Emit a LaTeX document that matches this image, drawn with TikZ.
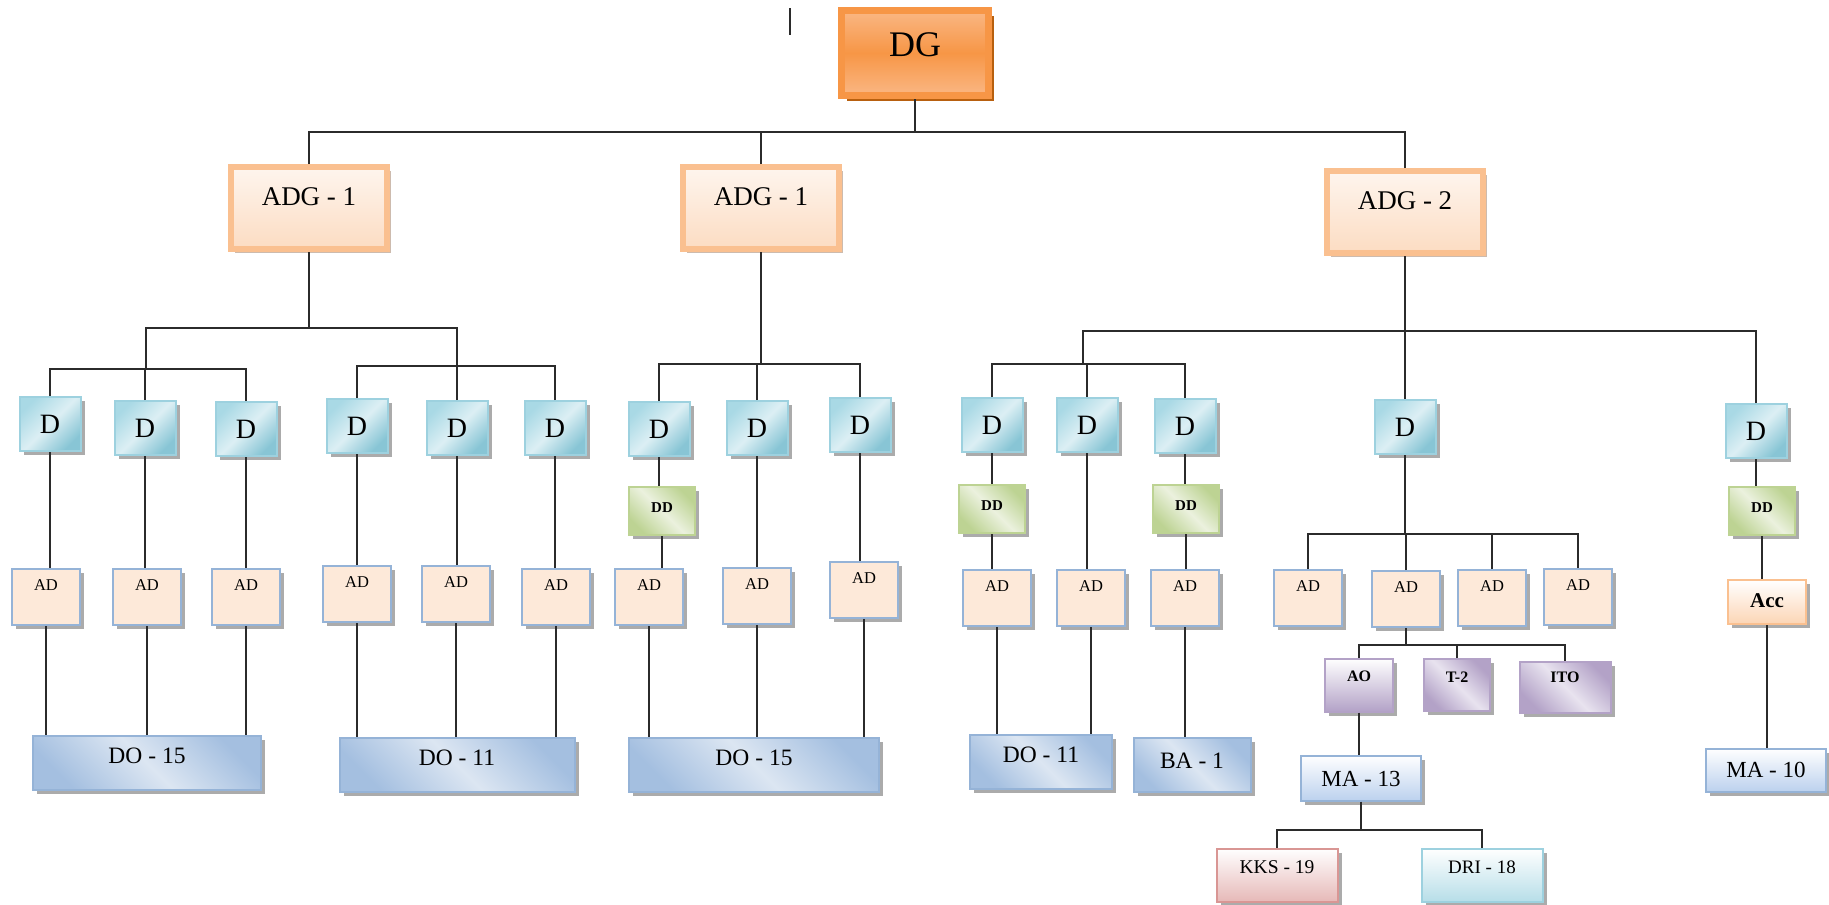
\documentclass[tikz,border=0pt]{standalone}
\usepackage{fontspec}
\setmainfont{Liberation Serif}
\usepackage{tikz}
\usetikzlibrary{shadows}
\definecolor{lineink}{HTML}{2B2B2B}
\definecolor{dgorange}{HTML}{F79646}
\definecolor{dglight}{HTML}{FAB784}
\definecolor{dgshadow}{HTML}{B8600F}
\definecolor{adgedge}{HTML}{FAC090}
\definecolor{adgfill}{HTML}{FCDCC2}
\definecolor{adgtop}{HTML}{FEF5EE}
\definecolor{adgshadow}{HTML}{CDBBAE}
\definecolor{dcorner}{HTML}{A9D9E5}
\definecolor{ddark}{HTML}{88C5D5}
\definecolor{dlight}{HTML}{DCEFF4}
\definecolor{dedge}{HTML}{9DD1DF}
\definecolor{adfill}{HTML}{FDE9D9}
\definecolor{adedge}{HTML}{95B3D7}
\definecolor{ddgreen}{HTML}{BDD393}
\definecolor{ddlight}{HTML}{EBF1DE}
\definecolor{doblue}{HTML}{A4BFE0}
\definecolor{dolight}{HTML}{DCE6F2}
\definecolor{mablue}{HTML}{BCD1EE}
\definecolor{purp}{HTML}{B3A2C7}
\definecolor{purplight}{HTML}{E8E3EF}
\definecolor{kkspink}{HTML}{E6B9B8}
\definecolor{kksedge}{HTML}{D99694}
\definecolor{drilight}{HTML}{B7DEE8}
\definecolor{accfill}{HTML}{FCD5B5}
\definecolor{shadowgray}{HTML}{ABABAB}
\newcommand{\fsz}[1]{\fontsize{#1}{#1}\selectfont}
\tikzset{link/.style={draw=lineink,line width=1.6pt},
  plainbox/.style={draw,line width=2pt,inner xsep=0pt,inner ysep=0pt},
  grayshadow/.style={drop shadow={shadow xshift=4pt,shadow yshift=-4pt,
    fill=shadowgray,opacity=1}},
  dgbox/.style={plainbox,draw=dgorange,line width=7pt,top color=dglight,
    bottom color=dglight,middle color=dgorange,minimum width=147pt,
    text height=46pt,text depth=39pt,font=\fsz{36},
    drop shadow={shadow xshift=5pt,shadow yshift=-5pt,fill=dgshadow,opacity=1}},
  adgbox/.style={plainbox,draw=adgedge,line width=6pt,top color=adgtop,
    bottom color=adgfill,minimum width=156pt,text height=38pt,text depth=44pt,
    font=\fsz{27},drop shadow={shadow xshift=4pt,shadow yshift=-4pt,
    fill=adgshadow,opacity=1}},
  dbox/.style={plainbox,grayshadow,draw=dedge,top color=dcorner,bottom color=ddark,
    middle color=dlight,shading angle=45,minimum width=61pt,text height=36pt,
    text depth=18pt,font=\fsz{28}},
  adbox/.style={plainbox,grayshadow,fill=adfill,draw=adedge,minimum width=68pt,
    text height=21pt,text depth=35pt,font=\fsz{16.5}},
  ddbox/.style={plainbox,grayshadow,draw=ddgreen,top color=ddgreen,
    bottom color=ddgreen,middle color=ddlight,shading angle=-45,
    minimum width=66pt,text height=25pt,text depth=23pt,font=\fsz{15}\bfseries},
  dobox/.style={plainbox,grayshadow,draw=adedge,top color=doblue,
    bottom color=doblue,middle color=dolight,shading angle=-45,
    text height=27pt,text depth=27pt,font=\fsz{23.5}},
  mabox/.style={plainbox,grayshadow,draw=adedge,top color=white,
    bottom color=mablue,minimum width=120pt,text height=31pt,text depth=14pt,
    font=\fsz{23}},
  aobox/.style={plainbox,grayshadow,draw=purp,top color=white,bottom color=purp,
    minimum width=68pt,text height=23pt,text depth=30pt,font=\fsz{16}\bfseries},
  tbox/.style={plainbox,grayshadow,draw=purp,top color=purp,bottom color=purp,
    middle color=purplight,shading angle=-45,text height=23pt,text depth=29pt,
    font=\fsz{16}\bfseries},
  kksbox/.style={plainbox,grayshadow,draw=kksedge,top color=white,
    bottom color=kkspink,minimum width=121pt,text height=25pt,text depth=28pt,
    font=\fsz{19.5}},
  dribox/.style={plainbox,grayshadow,draw=dedge,top color=white,
    bottom color=drilight,minimum width=121pt,text height=25pt,text depth=28pt,
    font=\fsz{19}},
  accbox/.style={plainbox,grayshadow,draw=adgedge,top color=white,
    bottom color=accfill,minimum width=78pt,text height=27pt,text depth=17pt,
    font=\fsz{21}\bfseries}}

\begin{document}
\begin{tikzpicture}[x=1pt,y=-1pt]
 \useasboundingbox (0,0) rectangle (1829,905);
 \node[dgbox] (dg) at (915,53) {DG};
 \node[adgbox] (adga) at (309,208) {ADG - 1};
 \node[adgbox] (adgb) at (761,208) {ADG - 1};
 \node[adgbox] (adgc) at (1405,212) {ADG - 2};

 \node[dbox] (d1) at (50,424) {D};
 \node[dbox] (d2) at (145,428) {D};
 \node[dbox] (d3) at (246,429) {D};
 \node[dbox] (d4) at (357,426) {D};
 \node[dbox] (d5) at (457,428) {D};
 \node[dbox] (d6) at (555,428) {D};
 \node[dbox] (d7) at (659,429) {D};
 \node[dbox] (d8) at (757,428) {D};
 \node[dbox] (d9) at (860,425) {D};
 \node[dbox] (d10) at (992,425) {D};
 \node[dbox] (d11) at (1087,425) {D};
 \node[dbox] (d12) at (1185,426) {D};
 \node[dbox] (d13) at (1405,427) {D};
 \node[dbox] (d14) at (1756,431) {D};

 \node[ddbox] (dd7) at (662,511) {DD};
 \node[ddbox] (dd10) at (992,509) {DD};
 \node[ddbox] (dd12) at (1186,509) {DD};
 \node[ddbox] (dd14) at (1762,511) {DD};

 \node[adbox] (ad1) at (46,597) {AD};
 \node[adbox] (ad2) at (147,597) {AD};
 \node[adbox] (ad3) at (246,597) {AD};
 \node[adbox] (ad4) at (357,594) {AD};
 \node[adbox] (ad5) at (456,594) {AD};
 \node[adbox] (ad6) at (556,597) {AD};
 \node[adbox] (ad7) at (649,597) {AD};
 \node[adbox] (ad8) at (757,596) {AD};
 \node[adbox] (ad9) at (864,590) {AD};
 \node[adbox] (ad10) at (997,598) {AD};
 \node[adbox] (ad11) at (1091,598) {AD};
 \node[adbox] (ad12) at (1185,598) {AD};
 \node[adbox] (ad13) at (1308,598) {AD};
 \node[adbox] (ad14) at (1406,599) {AD};
 \node[adbox] (ad15) at (1492,598) {AD};
 \node[adbox] (ad16) at (1578,597) {AD};

 \node[dobox,minimum width=228pt] (doa) at (147,763) {DO - 15};
 \node[dobox,minimum width=235pt] (dob) at (457,765) {DO - 11};
 \node[dobox,minimum width=250pt] (doc) at (754,765) {DO - 15};
 \node[dobox,minimum width=142pt] (dod) at (1041,762) {DO - 11};
 \node[dobox,minimum width=117pt,text height=30pt,text depth=24pt] (ba)
  at (1192,765) {BA - 1};

 \node[aobox] (ao) at (1359,685) {AO};
 \node[tbox,minimum width=66pt] (ttwo) at (1457,685) {T-2};
 \node[tbox,minimum width=91pt,text height=21pt,text depth=30pt] (ito)
  at (1565,687) {ITO};
 \node[mabox] (maa) at (1361,778) {MA - 13};
 \node[kksbox] (kks) at (1277,875) {KKS - 19};
 \node[dribox] (dri) at (1482,875) {DRI - 18};
 \node[accbox] (acc) at (1767,602) {Acc};
 \node[mabox,text height=29pt] (mab) at (1766,770) {MA - 10};

 \draw[link] (790,8) -- (790,35);
 \coordinate (topbus) at (917,132);
 \draw[link] (dg.south) -- (dg.south |- topbus);
 \draw[link] (adga.north) |- (topbus);
 \draw[link] (adgb.north) |- (topbus);
 \draw[link] (adgc.north) |- (topbus);

 \coordinate (busa) at (309,328);
 \coordinate (busal) at (146,369);
 \coordinate (busar) at (457,366);
 \draw[link] (adga.south) -- (busa);
 \draw[link] (busal) |- (busa);
 \draw[link] (busar) |- (busa);
 \draw[link] (d1.north) |- (busal);
 \draw[link] (d2.north) |- (busal);
 \draw[link] (d3.north) |- (busal);
 \draw[link] (d4.north) |- (busar);
 \draw[link] (d5.north) |- (busar);
 \draw[link] (d6.north) |- (busar);

 \coordinate (busb) at (761,364);
 \draw[link] (adgb.south) -- (busb);
 \draw[link] (d7.north) |- (busb);
 \draw[link] (d8.north) |- (busb);
 \draw[link] (d9.north) |- (busb);

 \coordinate (busc) at (1405,331);
 \coordinate (buscl) at (1083,364);
 \draw[link] (adgc.south) -- (busc);
 \draw[link] (buscl) |- (busc);
 \draw[link] (d13.north) |- (busc);
 \draw[link] (d14.north) |- (busc);
 \draw[link] (d10.north) |- (buscl);
 \draw[link] (d11.north) |- (buscl);
 \draw[link] (d12.north) |- (buscl);

 \draw[link] (d1.south) -- (d1.south |- ad1.north);
 \draw[link] (d2.south) -- (d2.south |- ad2.north);
 \draw[link] (d3.south) -- (d3.south |- ad3.north);
 \draw[link] (d4.south) -- (d4.south |- ad4.north);
 \draw[link] (d5.south) -- (d5.south |- ad5.north);
 \draw[link] (d6.south) -- (d6.south |- ad6.north);
 \draw[link] (d7.south) -- (d7.south |- dd7.north);
 \draw[link] (dd7.south) -- (dd7.south |- ad7.north);
 \draw[link] (d8.south) -- (d8.south |- ad8.north);
 \draw[link] (d9.south) -- (d9.south |- ad9.north);
 \draw[link] (d10.south) -- (d10.south |- dd10.north);
 \draw[link] (dd10.south) -- (dd10.south |- ad10.north);
 \draw[link] (d11.south) -- (d11.south |- ad11.north);
 \draw[link] (d12.south) -- (d12.south |- dd12.north);
 \draw[link] (dd12.south) -- (dd12.south |- ad12.north);

 \draw[link] (ad1.south) -- (ad1.south |- doa.north);
 \draw[link] (ad2.south) -- (ad2.south |- doa.north);
 \draw[link] (ad3.south) -- (ad3.south |- doa.north);
 \draw[link] (ad4.south) -- (ad4.south |- dob.north);
 \draw[link] (ad5.south) -- (ad5.south |- dob.north);
 \draw[link] (ad6.south) -- (ad6.south |- dob.north);
 \draw[link] (ad7.south) -- (ad7.south |- doc.north);
 \draw[link] (ad8.south) -- (ad8.south |- doc.north);
 \draw[link] (ad9.south) -- (ad9.south |- doc.north);
 \draw[link] (ad10.south) -- (ad10.south |- dod.north);
 \draw[link] (ad11.south) -- (ad11.south |- dod.north);
 \draw[link] (ad12.south) -- (ad12.south |- ba.north);

 \coordinate (busd) at (1405,534);
 \draw[link] (d13.south) -- (busd);
 \draw[link] (ad13.north) |- (busd);
 \draw[link] (ad14.north) |- (busd);
 \draw[link] (ad15.north) |- (busd);
 \draw[link] (ad16.north) |- (busd);

 \coordinate (buse) at (1406,645);
 \draw[link] (ad14.south) -- (buse);
 \draw[link] (ao.north) |- (buse);
 \draw[link] (ttwo.north) |- (buse);
 \draw[link] (ito.north) |- (buse);
 \draw[link] (ao.south) -- (ao.south |- maa.north);

 \coordinate (busf) at (1361,830);
 \draw[link] (maa.south) -- (busf);
 \draw[link] (kks.north) |- (busf);
 \draw[link] (dri.north) |- (busf);

 \draw[link] (d14.south) -- (d14.south |- dd14.north);
 \draw[link] (dd14.south) -- (dd14.south |- acc.north);
 \draw[link] (acc.south) -- (acc.south |- mab.north);
\end{tikzpicture}
\end{document}
